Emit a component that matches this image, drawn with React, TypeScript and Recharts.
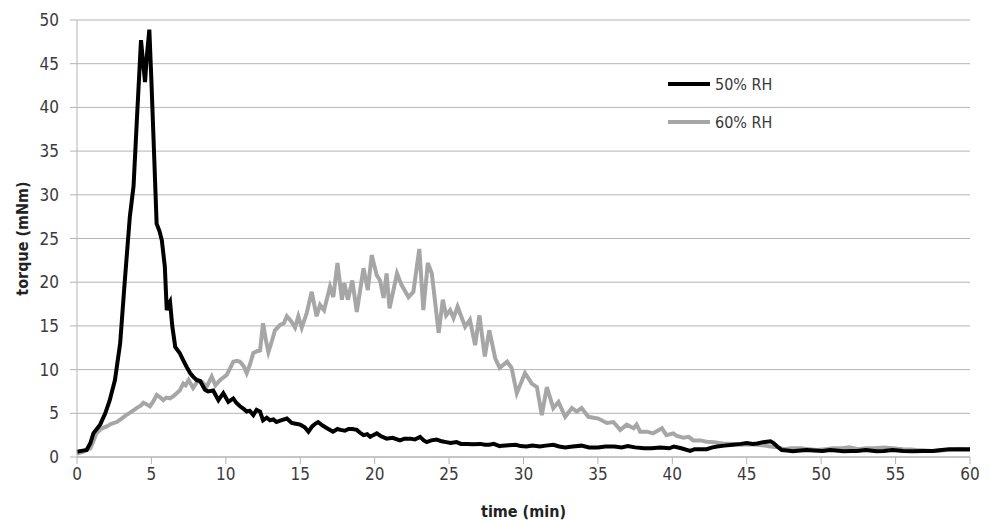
import { LineChart, Line, XAxis, YAxis, CartesianGrid, Legend } from 'recharts'

// 50% RH (black) – time in min, torque in mNm
const rh50Time = [
  0, 0.3, 0.65, 0.9, 1.1, 1.55, 1.9, 2.2, 2.55, 2.9, 3.2, 3.55, 3.8, 4.0, 4.3, 4.45, 4.57, 4.7, 4.86, 5.0,
  5.13, 5.35, 5.55, 5.7, 5.9, 6.03, 6.15, 6.25, 6.4, 6.6, 6.9, 7.1, 7.37, 7.6, 7.8, 8.05, 8.27, 8.6, 8.8, 9.15,
  9.5, 9.83, 10.17, 10.5, 10.7, 10.95, 11.2, 11.4, 11.6, 11.85, 12.07, 12.3, 12.5, 12.75, 12.97, 13.2, 13.4, 13.7, 14.1, 14.43,
  14.7, 15.0, 15.3, 15.55, 15.8, 16.0, 16.2, 16.5, 16.8, 17.0, 17.2, 17.5, 17.7, 18.0, 18.24, 18.5, 18.8, 19.0, 19.25, 19.5,
  19.7, 19.9, 20.14, 20.4, 20.8, 21.2, 21.7, 22.0, 22.4, 22.7, 23.05, 23.3, 23.5, 23.8, 24.17, 24.5, 24.8, 25.1, 25.5, 25.8,
  26.2, 26.6, 27.1, 27.4, 27.7, 28.0, 28.4, 28.6, 29.0, 29.5, 29.8, 30.2, 30.6, 31.1, 31.5, 32.0, 32.4, 32.8, 33.3, 33.9,
  34.4, 35.0, 35.5, 36.1, 36.6, 37.0, 37.5, 38.1, 38.6, 39.2, 39.8, 40.1, 40.6, 41.2, 41.5, 41.9, 42.3, 42.7, 43.0, 43.5,
  44.1, 44.6, 45.0, 45.4, 45.7, 46.1, 46.35, 46.6, 46.8, 47.05, 47.35, 47.7, 48.1, 48.6, 49.0, 49.5, 50.1, 50.6, 51.0, 51.5,
  52.0, 52.4, 53.0, 53.7, 54.2, 54.8, 55.5, 56.2, 56.8, 57.5, 58.1, 58.6, 59.3, 60,
]
const rh50Torque = [
  0.6, 0.7, 0.8, 1.6, 2.7, 3.7, 5.0, 6.5, 8.8, 13.0, 19.9, 27.5, 31.0, 37.8, 47.7, 45.0, 42.9, 46.0, 48.9, 43.0,
  37.0, 26.7, 25.8, 24.8, 21.8, 16.8, 17.5, 17.8, 15.0, 12.6, 11.9, 11.2, 10.3, 9.6, 9.2, 8.8, 8.7, 7.7, 7.5, 7.6,
  6.5, 7.3, 6.3, 6.7, 6.2, 5.8, 5.5, 5.2, 5.3, 4.8, 5.4, 5.2, 4.2, 4.5, 4.2, 4.3, 4.0, 4.2, 4.4, 3.9,
  3.8, 3.7, 3.4, 2.9, 3.5, 3.8, 4.0, 3.6, 3.3, 3.1, 2.9, 3.2, 3.1, 3.0, 3.2, 3.2, 3.1, 2.8, 2.5, 2.6,
  2.3, 2.5, 2.7, 2.4, 2.1, 2.2, 1.9, 2.1, 2.1, 2.0, 2.3, 1.9, 1.7, 1.9, 2.0, 1.8, 1.7, 1.6, 1.7, 1.5,
  1.5, 1.45, 1.5, 1.4, 1.4, 1.5, 1.25, 1.3, 1.35, 1.4, 1.25, 1.2, 1.3, 1.2, 1.3, 1.4, 1.2, 1.1, 1.2, 1.3,
  1.1, 1.1, 1.2, 1.2, 1.1, 1.25, 1.1, 1.0, 1.0, 1.1, 1.0, 1.2, 1.0, 0.7, 0.9, 0.9, 0.9, 1.1, 1.2, 1.3,
  1.4, 1.5, 1.6, 1.5, 1.55, 1.7, 1.75, 1.8, 1.6, 1.2, 0.8, 0.75, 0.65, 0.75, 0.8, 0.75, 0.7, 0.8, 0.75, 0.65,
  0.7, 0.7, 0.8, 0.65, 0.7, 0.8, 0.7, 0.65, 0.7, 0.7, 0.8, 0.9, 0.9, 0.9,
]

// 60% RH (grey)
const rh60Time = [
  0, 0.4, 0.9, 1.1, 1.3, 1.6, 2.0, 2.3, 2.67, 3.0, 3.3, 3.6, 4.0, 4.3, 4.46, 4.7, 4.9, 5.1, 5.36, 5.6,
  5.8, 6.0, 6.25, 6.5, 6.7, 6.9, 7.14, 7.3, 7.5, 7.8, 8.15, 8.4, 8.7, 9.05, 9.3, 9.6, 10.06, 10.3, 10.5, 10.75,
  10.95, 11.2, 11.4, 11.6, 11.85, 12.1, 12.3, 12.5, 12.7, 12.86, 13.1, 13.3, 13.64, 13.9, 14.1, 14.4, 14.65, 14.87, 15.1, 15.44,
  15.77, 16.1, 16.33, 16.6, 17.0, 17.22, 17.5, 17.8, 17.96, 18.2, 18.5, 18.8, 19.25, 19.54, 19.8, 20.14, 20.36, 20.6, 20.8, 21.0,
  21.5, 21.8, 22.27, 22.6, 23.0, 23.27, 23.57, 23.84, 24.3, 24.58, 24.8, 25.07, 25.3, 25.57, 26.08, 26.4, 26.75, 27.04, 27.4, 27.7,
  28.1, 28.4, 28.9, 29.2, 29.55, 30.1, 30.56, 30.9, 31.23, 31.57, 32.0, 32.35, 32.8, 33.25, 33.58, 33.9, 34.36, 35.03, 35.6, 36.04,
  36.5, 36.94, 37.4, 37.6, 37.84, 38.3, 38.7, 39.3, 39.6, 40.07, 40.3, 40.75, 41.1, 41.4, 41.87, 42.3, 42.8, 43.4, 44.0, 44.6,
  45.2, 45.7, 46.2, 46.6, 47.1, 47.5, 48.0, 48.6, 49.2, 49.7, 50.3, 50.8, 51.4, 51.9, 52.5, 53.0, 53.6, 54.2, 54.8, 55.5,
  56.0, 56.4, 57.0, 57.5, 58.0, 58.6, 59.3, 60,
]
const rh60Torque = [
  0.4, 0.6, 1.0, 1.8, 2.7, 3.2, 3.5, 3.8, 4.0, 4.4, 4.8, 5.1, 5.6, 5.9, 6.2, 6.0, 5.8, 6.3, 7.1, 6.8,
  6.5, 6.8, 6.7, 7.0, 7.3, 7.6, 8.4, 8.2, 8.8, 7.9, 8.8, 8.6, 8.0, 9.2, 8.2, 8.8, 9.4, 10.2, 10.9, 11.0,
  10.9, 10.4, 9.6, 10.5, 11.9, 12.1, 12.2, 15.3, 13.3, 12.0, 13.3, 14.5, 15.1, 15.3, 16.1, 15.5, 14.8, 16.1, 14.8, 16.5,
  18.9, 16.1, 17.4, 16.8, 19.5, 18.3, 22.2, 18.0, 19.9, 18.0, 20.2, 16.6, 21.6, 19.1, 23.1, 20.8, 20.2, 18.2, 21.0, 17.0,
  21.0, 19.7, 18.3, 18.9, 23.8, 16.8, 22.2, 21.0, 14.2, 18.0, 16.2, 16.8, 15.9, 17.2, 14.9, 15.7, 12.8, 16.2, 11.5, 14.5,
  11.3, 10.2, 10.9, 10.2, 7.3, 9.6, 8.4, 8.0, 4.8, 8.0, 5.6, 6.3, 4.6, 5.6, 5.2, 5.6, 4.6, 4.4, 3.9, 4.0,
  3.1, 3.7, 3.3, 3.7, 2.9, 2.9, 2.7, 3.3, 2.5, 2.7, 2.4, 2.2, 2.3, 1.9, 1.9, 1.75, 1.7, 1.55, 1.5, 1.4,
  1.45, 1.4, 1.3, 1.2, 1.1, 0.9, 1.0, 1.0, 0.9, 0.8, 0.9, 1.0, 1.0, 1.1, 0.9, 1.0, 1.0, 1.1, 1.0, 0.9,
  0.85, 0.8, 0.75, 0.7, 0.75, 0.8, 0.85, 0.8,
]

const xTicks = [0, 5, 10, 15, 20, 25, 30, 35, 40, 45, 50, 55, 60]
const yTicks = [0, 5, 10, 15, 20, 25, 30, 35, 40, 45, 50]

const rh50 = rh50Time.map((t, i) => ({ time: t, torque: rh50Torque[i] }))
const rh60 = rh60Time.map((t, i) => ({ time: t, torque: rh60Torque[i] }))

const font = "'Liberation Sans Narrow', 'DejaVu Sans Condensed', 'Liberation Sans', sans-serif"
const gridColor = '#b4b4b4'
const textColor = '#3a3a3a'

const legendItems = [
  { label: '50% RH', color: '#000000' },
  { label: '60% RH', color: '#a6a6a6' },
]

function LegendBox() {
  return (
    <div style={{ fontFamily: font, fontSize: 16, color: textColor }}>
      {legendItems.map((it) => (
        <div key={it.label} style={{ display: 'flex', alignItems: 'center', height: 38 }}>
          <svg width={47} height={6}>
            <line x1={0} y1={3} x2={42} y2={3} stroke={it.color} strokeWidth={4} />
          </svg>
          <span>{it.label}</span>
        </div>
      ))}
    </div>
  )
}

export default function App() {
  return (
    <div style={{ position: 'absolute', left: 0, top: 0 }}>
      <LineChart width={991} height={522} margin={{ top: 20, right: 21, left: 0, bottom: 0 }}>
        <CartesianGrid vertical={false} stroke={gridColor} strokeWidth={1} />
        <XAxis
          dataKey="time"
          type="number"
          domain={[0, 60]}
          ticks={xTicks}
          height={65}
          stroke={gridColor}
          tickSize={7}
          tickMargin={4}
          tick={{ fill: textColor, fontSize: 17, fontFamily: font }}
          label={{ value: 'time (min)', position: 'insideBottom', offset: 5, style: { fontFamily: font, fontSize: 16, fontWeight: 'bold', fill: '#222' } }}
        />
        <YAxis
          type="number"
          domain={[0, 50]}
          ticks={yTicks}
          width={77}
          stroke={gridColor}
          tickSize={7}
          tickMargin={11}
          tick={{ fill: textColor, fontSize: 17, fontFamily: font }}
          label={{ value: 'torque (mNm)', angle: -90, position: 'insideLeft', offset: 22, style: { textAnchor: 'middle', fontFamily: font, fontSize: 16, fontWeight: 'bold', fill: '#222' } }}
        />
        <Legend
          layout="vertical"
          align="center"
          verticalAlign="middle"
          content={() => <LegendBox />}
          wrapperStyle={{ left: 668, top: 65, width: 140 }}
        />
        <Line data={rh60} dataKey="torque" name="60% RH" type="linear" stroke="#a6a6a6" strokeWidth={4} dot={false} isAnimationActive={false} />
        <Line data={rh50} dataKey="torque" name="50% RH" type="linear" stroke="#000000" strokeWidth={4} dot={false} isAnimationActive={false} />
      </LineChart>
    </div>
  )
}
